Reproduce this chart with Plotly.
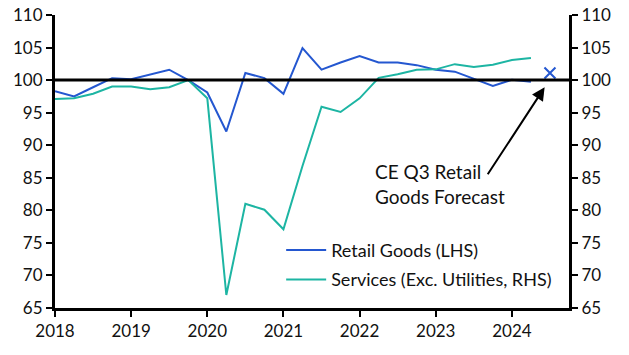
import plotly.graph_objects as go

quarters = [2018 + 0.25 * i for i in range(26)]
retail_goods = [98.3, 97.5, 98.9, 100.3, 100.15, 100.9, 101.6, 100.0,
                98.1, 92.1, 101.1, 100.3, 97.9, 104.9, 101.6, 102.7,
                103.7, 102.7, 102.7, 102.3, 101.6, 101.3, 100.25, 99.1,
                100.05, 99.75]
services = [97.1, 97.2, 97.9, 99.0, 99.0, 98.6, 98.9, 100.0,
            97.2, 67.0, 81.0, 80.1, 77.1, 86.8, 95.9, 95.1,
            97.2, 100.35, 100.9, 101.6, 101.65, 102.45, 102.0, 102.35,
            103.1, 103.4]
forecast_x = [2024.5]
forecast_y = [101.1]
year_ticks = [2018, 2019, 2020, 2021, 2022, 2023, 2024]
y_ticks = [65, 70, 75, 80, 85, 90, 95, 100, 105, 110]

BLUE = "#2457d0"
TEAL = "#1db5a3"
FONT = "Lato, 'Open Sans', sans-serif"

fig = go.Figure()
fig.add_trace(go.Scatter(x=quarters, y=retail_goods, mode="lines", legendgroup="a",
                         line=dict(color=BLUE, width=2), name="Retail Goods (LHS)"))
fig.add_trace(go.Scatter(x=quarters, y=services, mode="lines", yaxis="y2",
                         legendgroup="b", line=dict(color=TEAL, width=2),
                         name="Services (Exc. Utilities, RHS)"))
fig.add_trace(go.Scatter(x=forecast_x, y=forecast_y, mode="markers",
                         marker=dict(symbol="x-thin", size=11,
                                     line=dict(color=BLUE, width=2)),
                         showlegend=False))

fig.add_shape(type="line", xref="paper", yref="y", x0=0, x1=1, y0=100, y1=100,
              line=dict(color="black", width=3))

fig.add_annotation(x=2024.43, y=98.9, ax=2023.67, ay=85.3, xref="x", yref="y",
                   axref="x", ayref="y", text="", showarrow=True,
                   arrowhead=2, arrowsize=1.3, arrowwidth=2, arrowcolor="black")
fig.add_annotation(x=2022.18, y=84.1, xref="x", yref="y", xanchor="left",
                   yanchor="middle", align="left", showarrow=False,
                   text="CE Q3 Retail<br>Goods Forecast",
                   font=dict(family=FONT, size=19, color="#111"))

axis_common = dict(showgrid=False, zeroline=False, showline=True, linecolor="black",
                   linewidth=3, ticks="outside", ticklen=6, tickwidth=2,
                   tickcolor="black", automargin=False,
                   tickfont=dict(family=FONT, size=17, color="#111"))

fig.update_layout(
    width=629, height=355,
    margin=dict(l=55, r=60, t=15, b=47),
    paper_bgcolor="white", plot_bgcolor="white",
    font=dict(family=FONT, size=17, color="#111"),
    xaxis=dict(range=[2018, 2024.75], tickvals=year_ticks,
               ticktext=[str(y) for y in year_ticks], **axis_common),
    yaxis=dict(range=[65, 110], tickvals=y_ticks, **axis_common),
    yaxis2=dict(range=[65, 110], tickvals=y_ticks, overlaying="y", side="right",
                **axis_common),
    legend=dict(x=0.44, y=0.26, xanchor="left", yanchor="top",
                bgcolor="rgba(0,0,0,0)", font=dict(family=FONT, size=18, color="#111"),
                itemwidth=40, tracegroupgap=3),
    showlegend=True,
)

fig.write_html("out.html", config={"displayModeBar": False},
               post_script="document.body.style.margin='0';document.body.style.overflow='hidden';")
